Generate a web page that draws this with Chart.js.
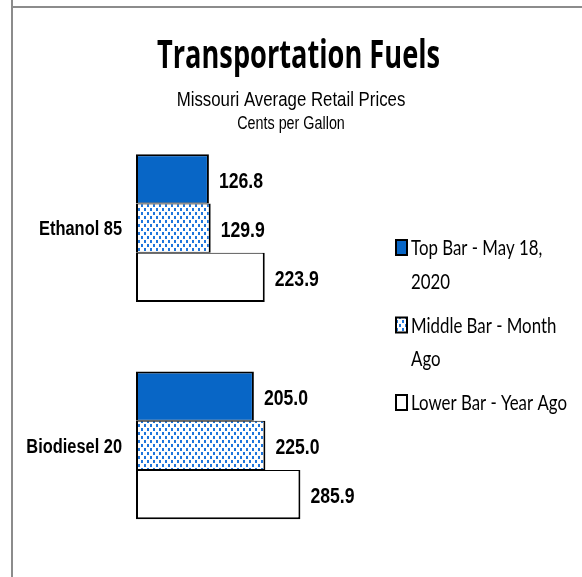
<!DOCTYPE html>
<html>
<head>
<meta charset="utf-8">
<script src="https://cdn.jsdelivr.net/npm/chart.js@4/dist/chart.umd.min.js"></script>
<style>
html, body { margin: 0; padding: 0; background: #fff; }
#marco { position: relative; width: 582px; height: 577px; overflow: hidden; }
#grafico { position: absolute; left: 0; top: 0; }
#bordeIzq { position: absolute; left: 11px; top: 0; width: 2px; height: 577px; background: #8c8c8c; }
#bordeSup { position: absolute; left: 11px; top: 6px; width: 571px; height: 2px; background: #8c8c8c; }
</style>
</head>
<body>
<div id="marco">
  <canvas id="grafico" width="582" height="577"></canvas>
  <div id="bordeIzq"></div>
  <div id="bordeSup"></div>
</div>
<script>
// 1. Datos del grafico
const categorias = ['Ethanol 85', 'Biodiesel 20'];
const barraSuperior = [126.8, 205.0];
const barraMedia = [129.9, 225.0];
const barraInferior = [223.9, 285.9];
const etiquetasSerie = ['Top Bar - May 18, 2020', 'Middle Bar - Month Ago', 'Lower Bar - Year Ago'];
const titulo = 'Transportation Fuels';
const subtitulos = ['Missouri Average Retail Prices', 'Cents per Gallon'];

// fuente tipo Arial (se comprime a lo ancho para imitar Arial Narrow)
const fuenteArial = "'Liberation Sans', Arial, sans-serif";
const fuenteCalibri = "Lato, 'Liberation Sans', sans-serif";
const fuenteTitulo = "'Open Sans', 'Noto Sans', sans-serif";
const estrecha = 0.82;
const ctx = document.getElementById('grafico').getContext('2d');

// 2. Patron de puntos azules para la barra del medio
function crearPatron() {
    const c = document.createElement('canvas');
    c.width = 6;
    c.height = 8;
    const p = c.getContext('2d');
    p.fillStyle = '#ffffff';
    p.fillRect(0, 0, 6, 8);
    p.fillStyle = '#1f76dc';
    p.fillRect(0, 0, 2, 3);
    p.fillRect(3, 4, 2, 3);
    return ctx.createPattern(c, 'repeat');
}
const patron = crearPatron();

// texto comprimido horizontalmente
function texto(c, t, x, y, fuente, escala, alinear) {
    c.save();
    c.font = fuente;
    const w = c.measureText(t).width * escala;
    let x0 = x;
    if (alinear === 'center') x0 = x - w / 2;
    else if (alinear === 'right') x0 = x - w;
    c.translate(x0, y);
    c.scale(escala, 1);
    c.textAlign = 'left';
    c.textBaseline = 'alphabetic';
    c.fillText(t, 0, 0);
    c.restore();
}

// 3. Plugin para titulos, categorias, valores y leyenda
const pluginTextos = {
    id: 'textos',
    afterDatasetsDraw(chart) {
        const c = chart.ctx;
        c.save();
        c.fillStyle = '#000';
        // valores al final de cada barra
        const fv = 'bold 21.5px ' + fuenteArial;
        chart.data.datasets.forEach((ds, i) => {
            chart.getDatasetMeta(i).data.forEach((barra, j) => {
                texto(c, ds.data[j].toFixed(1), barra.x + 10, barra.y + 1 + 0.358 * 21.5, fv, estrecha, 'left');
            });
        });
        // nombres de categorias desde la escala y
        const ejeY = chart.scales.y;
        const fc = 'bold 20px ' + fuenteArial;
        categorias.forEach((cat, j) => {
            texto(c, cat, 122, ejeY.getPixelForValue(j) + 0.358 * 20, fc, estrecha, 'right');
        });
        c.restore();
    },
    afterDraw(chart) {
        const c = chart.ctx;
        c.save();
        c.fillStyle = '#000';

        // titulo y subtitulos
        const ft = 'bold 40px ' + fuenteTitulo;
        c.font = ft;
        texto(c, titulo, 298.5, 68, ft, 283 / c.measureText(titulo).width, 'center');
        texto(c, subtitulos[0], 291, 106, '20.5px ' + fuenteArial, estrecha, 'center');
        texto(c, subtitulos[1], 291, 129, '17.5px ' + fuenteArial, estrecha, 'center');

        // leyenda con texto partido en lineas
        const fl = '21px ' + fuenteCalibri;
        c.font = fl;
        const escalaL = 156 / c.measureText(etiquetasSerie[2]).width;
        let base = 255;
        chart.data.datasets.forEach((ds) => {
            c.fillStyle = ds.backgroundColor;
            c.fillRect(396, base - 15, 11, 15);
            c.strokeStyle = '#000';
            c.lineWidth = 2;
            c.strokeRect(396, base - 15, 11, 15);
            c.fillStyle = '#000';
            c.font = fl;
            const palabras = ds.label.split(' ');
            let linea = '';
            const lineas = [];
            palabras.forEach((w) => {
                const prueba = linea ? linea + ' ' + w : w;
                if (c.measureText(prueba).width * escalaL > 165 && linea) {
                    lineas.push(linea);
                    linea = w;
                } else {
                    linea = prueba;
                }
            });
            lineas.push(linea);
            lineas.forEach((l, k) => {
                texto(c, l, 411, base, fl, escalaL, 'left');
                if (k < lineas.length - 1) base += 33.5;
            });
            base += 44;
        });
        c.restore();
    }
};

// 4. Crear grafico con Chart.js
const grafico = new Chart(ctx, {
    type: 'bar',
    data: {
        labels: categorias,
        datasets: [{
            label: etiquetasSerie[0],
            data: barraSuperior,
            backgroundColor: '#0866c6',
            borderColor: '#000',
            borderWidth: { top: 2, bottom: 1, left: 2, right: 2 },
            borderSkipped: false
        }, {
            label: etiquetasSerie[1],
            data: barraMedia,
            backgroundColor: patron,
            borderColor: '#000',
            borderWidth: { top: 1, bottom: 1, left: 2, right: 2 },
            borderSkipped: false
        }, {
            label: etiquetasSerie[2],
            data: barraInferior,
            backgroundColor: '#ffffff',
            borderColor: '#000',
            borderWidth: { top: 1, bottom: 2, left: 2, right: 2 },
            borderSkipped: false
        }]
    },
    options: {
        indexAxis: 'y',
        responsive: false,
        animation: false,
        layout: { padding: { top: 119.5, bottom: 23, left: 0, right: 216 } },
        datasets: { bar: { categoryPercentage: 0.679, barPercentage: 1 } },
        scales: {
            x: { display: false, min: 0, max: 400 },
            y: {
                grid: { display: false, drawTicks: false },
                border: { display: false },
                ticks: { display: false },
                afterFit: (s) => { s.width = 136; }
            }
        },
        plugins: {
            legend: { display: false },
            tooltip: { enabled: false }
        }
    },
    plugins: [pluginTextos]
});
</script>
</body>
</html>
